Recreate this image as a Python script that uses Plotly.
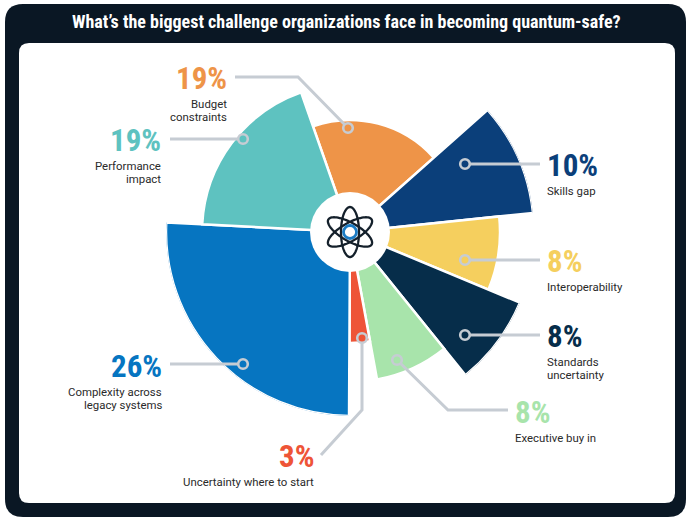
import numpy as np
import plotly.graph_objects as go

W, H = 693, 523
CX, CY = 350, 232          # pixel centre of the pie
R_MAX = 184                # pixel radius of the longest petals

# ---- data -------------------------------------------------------------
categories = ["Budget constraints", "Skills gap", "Interoperability",
              "Standards uncertainty", "Executive buy in",
              "Uncertainty where to start", "Complexity across legacy systems",
              "Performance impact"]
shares = [19, 10, 8, 8, 8, 3, 26, 19]
label_lines = [["Budget", "constraints"], ["Skills gap"], ["Interoperability"],
               ["Standards", "uncertainty"], ["Executive buy in"],
               ["Uncertainty where to start"], ["Complexity across", "legacy systems"],
               ["Performance", "impact"]]

# ---- styling ----------------------------------------------------------
colors = ["#EE9448", "#0B3F7A", "#F5CF5E", "#062D4A",
          "#A8E4AB", "#EE5437", "#0675C1", "#5EC2C0"]
ring_radius = [112, 184, 150, 184, 150, 111, 184, 148]   # decorative petal lengths (px)
START_ANGLE = -19.3
LEADER = "#C6CCD3"
NAVY_BG = "#0A1724"
PCT_FONT = "Liberation Sans Narrow, Roboto Condensed, Roboto"

total = sum(shares)
widths = np.array(shares) * 360 / total
centers = START_ANGLE + np.cumsum(widths) - widths / 2


def px(x):
    return x / W


def py(y):
    return 1 - y / H


fig = go.Figure()
fig.add_trace(go.Barpolar(
    r=ring_radius, theta=centers, width=widths,
    marker=dict(color=colors, line=dict(color="white", width=2.5)),
    hovertext=[f"{c}: {s}%" for c, s in zip(categories, shares)],
    hoverinfo="text",
))

shapes = []


def rounded_rect(x0, y0, x1, y1, r, color):
    rx, ry = r / W, r / H
    a0, a1 = px(x0), px(x1)
    b0, b1 = py(y0), py(y1)   # b0 top, b1 bottom (paper)
    path = (f"M {a0 + rx},{b0} L {a1 - rx},{b0} Q {a1},{b0} {a1},{b0 - ry} "
            f"L {a1},{b1 + ry} Q {a1},{b1} {a1 - rx},{b1} "
            f"L {a0 + rx},{b1} Q {a0},{b1} {a0},{b1 + ry} "
            f"L {a0},{b0 - ry} Q {a0},{b0} {a0 + rx},{b0} Z")
    return dict(type="path", path=path, xref="paper", yref="paper",
                fillcolor=color, line=dict(width=0), layer="below")


shapes.append(rounded_rect(5, 4, 686, 517, 18, NAVY_BG))
shapes.append(rounded_rect(19, 43, 675, 503, 10, "white"))


def circle(x, y, r, fill, line_color, line_width, layer="above"):
    return dict(type="circle", xref="paper", yref="paper",
                x0=px(x - r), x1=px(x + r), y0=py(y + r), y1=py(y - r),
                fillcolor=fill, line=dict(color=line_color, width=line_width),
                layer=layer)


# centre hub with atom icon
shapes.append(circle(CX, CY, 40, "white", "white", 0))
t = np.linspace(0, 2 * np.pi, 80)
for rot in (90, 30, 150):
    a = np.radians(rot)
    ex = 25 * np.cos(t)
    ey = 9 * np.sin(t)
    xs = CX + ex * np.cos(a) - ey * np.sin(a)
    ys = CY - (ex * np.sin(a) + ey * np.cos(a))
    path = "M " + " L ".join(f"{px(x):.5f},{py(y):.5f}" for x, y in zip(xs, ys)) + " Z"
    shapes.append(dict(type="path", path=path, xref="paper", yref="paper",
                       line=dict(color="#14202B", width=2.3), layer="above"))
shapes.append(circle(CX, CY, 6.5, "white", "#1B7CC4", 2.8))

# callouts: leader path (pixels), value anchor, text side
callouts = [
    dict(path=[(348, 128), (298, 77), (235, 77)], x=229, y=78, side="right"),
    dict(path=[(465, 164), (540, 164)], x=545, y=165, side="left"),
    dict(path=[(465, 260), (540, 260)], x=545, y=261, side="left"),
    dict(path=[(465, 335), (540, 335)], x=545, y=336, side="left"),
    dict(path=[(397, 360), (448, 410), (508, 410)], x=513, y=412, side="left"),
    dict(path=[(362, 338), (362, 410), (321, 455)], x=316, y=456, side="right"),
    dict(path=[(243, 364), (170, 364)], x=164, y=366, side="right"),
    dict(path=[(243, 139), (170, 139)], x=163, y=140, side="right"),
]

annotations = [dict(
    text="<b>What’s the biggest challenge organizations face in becoming quantum-safe?</b>",
    x=px(346), y=py(22), xref="paper", yref="paper", showarrow=False,
    xanchor="center", yanchor="middle",
    font=dict(family=PCT_FONT, size=18, color="white"),
)]

for i, c in enumerate(callouts):
    pts = c["path"]
    d = "M " + " L ".join(f"{px(x):.5f},{py(y):.5f}" for x, y in pts)
    shapes.append(dict(type="path", path=d, xref="paper", yref="paper",
                       line=dict(color=LEADER, width=3), layer="above"))
    dx, dy = pts[0]
    shapes.append(circle(dx, dy, 4.8, colors[i], LEADER, 2.6))

    anchor = "right" if c["side"] == "right" else "left"
    annotations.append(dict(
        text=f"<b>{shares[i]}%</b>", x=px(c["x"]), y=py(c["y"]),
        xref="paper", yref="paper", showarrow=False,
        xanchor=anchor, yanchor="middle", align=anchor,
        font=dict(family=PCT_FONT, size=31, color=colors[i]),
    ))
    for j, line in enumerate(label_lines[i]):
        annotations.append(dict(
            text=line, x=px(c["x"]), y=py(c["y"] + 26 + j * 13),
            xref="paper", yref="paper", showarrow=False,
            xanchor=anchor, yanchor="middle", align=anchor,
            font=dict(family="Roboto", size=11.4, color="#2A2A2A"),
        ))

fig.update_layout(
    width=W, height=H, autosize=False,
    margin=dict(l=0, r=0, t=0, b=0),
    paper_bgcolor="white",
    showlegend=False,
    polar=dict(
        domain=dict(x=[px(CX - R_MAX), px(CX + R_MAX)],
                    y=[py(CY + R_MAX), py(CY - R_MAX)]),
        bgcolor="rgba(0,0,0,0)",
        radialaxis=dict(visible=False, range=[0, R_MAX]),
        angularaxis=dict(visible=False, rotation=90, direction="clockwise"),
        bargap=0,
    ),
    shapes=shapes,
    annotations=annotations,
)

# drop the browser's default 8px body margin so the figure sits at 0,0
fig.write_html("out.html", config={"displayModeBar": False},
               post_script="document.body.style.margin='0px';")
